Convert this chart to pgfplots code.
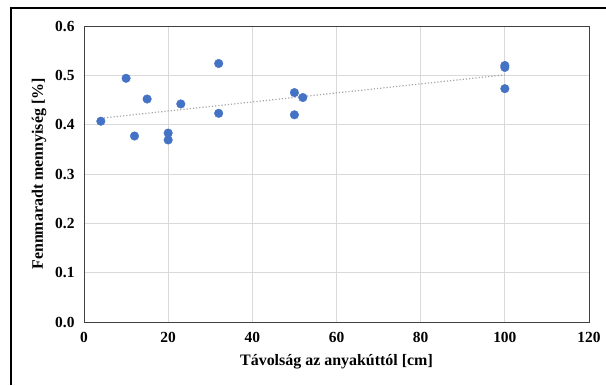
\documentclass[border=0pt]{standalone}
\usepackage{pgfplots}
\pgfplotsset{compat=1.18}
\usepackage{fontspec}
\setmainfont{Liberation Serif}
\definecolor{dotblue}{HTML}{4472C4}
\definecolor{gridgray}{HTML}{D9D9D9}
\definecolor{framegray}{HTML}{404040}
\definecolor{trendgray}{HTML}{A6A6A6}

% Measured remaining amount vs. distance from the mother well
\pgfplotstableread{
x    y
4    0.407
10   0.494
12   0.377
15   0.452
20   0.383
20   0.369
23   0.442
32   0.524
32   0.423
50   0.465
50   0.420
52   0.455
100  0.520
100  0.516
100  0.473
}\measured

\begin{document}
\begin{tikzpicture}[x=1bp,y=1bp]
\useasboundingbox (0,0) rectangle (606,385);
% outer chart frame
\draw[line width=2bp] (11,0) -- (11,377) -- (606,377);
\begin{axis}[
  at={(84bp,63bp)}, anchor=south west,
  scale only axis, width=505bp, height=296bp,
  xmin=0, xmax=120, ymin=0, ymax=0.6,
  xtick={0,20,40,60,80,100,120},
  ytick={0,0.1,0.2,0.3,0.4,0.5,0.6},
  grid=major,
  major grid style={gridgray, line width=0.9bp},
  axis line style={framegray, line width=0.9bp},
  major tick length=0pt,
  tick style={draw=none},
  /pgf/number format/assume math mode=true,
  ticklabel style={font=\fontsize{15.5}{17}\selectfont\bfseries},
  yticklabel style={/pgf/number format/fixed, /pgf/number format/fixed zerofill, /pgf/number format/precision=1, xshift=-6bp},
  xticklabel style={yshift=-7bp},
  every axis x label/.style={at={([yshift=-40bp]axis description cs:0.5,0)}, anchor=center},
  every axis y label/.style={at={([xshift=-45bp]axis description cs:0,0.5)}, anchor=center, rotate=90},
  label style={font=\fontsize{16}{18}\selectfont\bfseries},
  xlabel={Távolság az anyakúttól [cm]},
  ylabel={Fennmaradt mennyiség [\%]},
  clip=false,
]
% linear trendline
\addplot[trendgray, line width=1.2bp, dotted] coordinates {(4,0.413) (100,0.501)};
\addplot[only marks, mark=*, mark size=4.3bp, dotblue, mark options={draw=dotblue, fill=dotblue}] table[x=x, y=y] {\measured};
\end{axis}
\end{tikzpicture}
\end{document}
